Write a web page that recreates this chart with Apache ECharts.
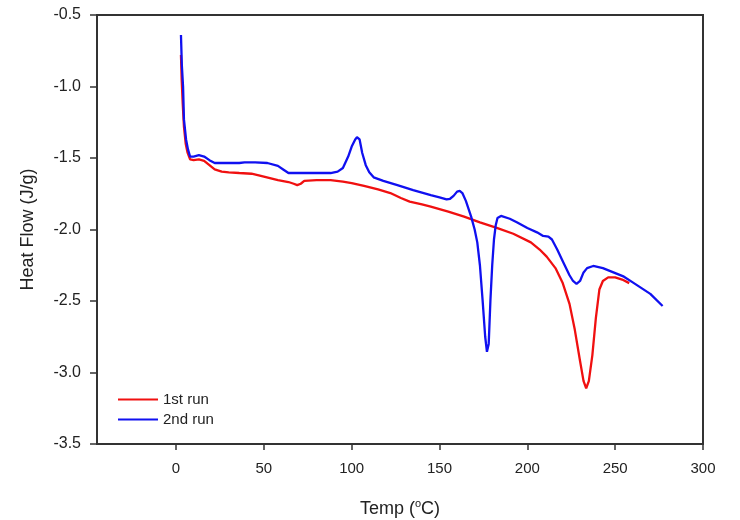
<!DOCTYPE html>
<html><head><meta charset="utf-8">
<script src="https://cdn.jsdelivr.net/npm/echarts@6/dist/echarts.min.js"></script>
<style>html,body{margin:0;padding:0;background:#fff}#c{width:740px;height:520px}</style>
</head><body><div id="c"></div>
<script>
const xTicks = [0, 50, 100, 150, 200, 250, 300];
const temp1 = [2.8,3.2,3.8,4.5,5.5,6.5,8,10,13,16,19,22,26,30,36,43,50,58,64,67,69,71,73,80,88,95,100,107,115,122,128,133,140,145,155,164,173,183,192,202,207,211,216,220,224,227,230,232,233.5,235,237,239,241,243,246,250,254,258];
const flow1 = [-0.78,-0.95,-1.12,-1.28,-1.40,-1.46,-1.51,-1.515,-1.51,-1.52,-1.55,-1.58,-1.595,-1.60,-1.605,-1.61,-1.63,-1.655,-1.668,-1.68,-1.69,-1.68,-1.66,-1.655,-1.655,-1.665,-1.675,-1.695,-1.72,-1.745,-1.78,-1.805,-1.825,-1.84,-1.875,-1.91,-1.95,-1.99,-2.03,-2.09,-2.14,-2.19,-2.27,-2.37,-2.52,-2.7,-2.92,-3.06,-3.11,-3.06,-2.88,-2.62,-2.42,-2.36,-2.335,-2.335,-2.35,-2.375];
const temp2 = [2.8,3.3,4,4.5,5.7,6.8,8,10,13,16,19,22,28,36,39,45,52,58,61,64,70,80,88,92,95,98,100,102,103,104.5,106,108,110,112.5,118,126,135,145,150,154,156,158,160,161.5,163,165,168,170,171.5,173,174.5,176,177,178,179,180,181,182,183,185,190,194,200,205.5,209,212,214,217,220.5,224,226,228,230,232,234,237.5,243,249,255,260,265,270,277];
const flow2 = [-0.64,-0.85,-1.0,-1.23,-1.37,-1.44,-1.49,-1.49,-1.48,-1.49,-1.515,-1.535,-1.535,-1.535,-1.53,-1.53,-1.535,-1.555,-1.58,-1.605,-1.605,-1.605,-1.605,-1.595,-1.57,-1.49,-1.42,-1.37,-1.355,-1.37,-1.465,-1.55,-1.6,-1.635,-1.66,-1.69,-1.725,-1.76,-1.775,-1.79,-1.785,-1.765,-1.735,-1.73,-1.745,-1.8,-1.91,-2.0,-2.09,-2.25,-2.49,-2.75,-2.855,-2.8,-2.49,-2.25,-2.07,-1.97,-1.92,-1.905,-1.925,-1.95,-1.99,-2.02,-2.045,-2.05,-2.07,-2.14,-2.23,-2.32,-2.36,-2.38,-2.36,-2.3,-2.27,-2.255,-2.27,-2.30,-2.33,-2.37,-2.41,-2.45,-2.535];
const seriesNames = ['1st run', '2nd run'];

const zip = (a, b) => a.map((v, i) => [v, b[i]]);
const font = 'Liberation Sans, Arial, sans-serif';
const chart = echarts.init(document.getElementById('c'), null, {renderer: 'canvas'});
chart.setOption({
  animation: false,
  backgroundColor: '#fff',
  grid: {left: 97, right: 37, top: 15, bottom: 76, containLabel: false, outerBoundsMode: 'none',
         show: true, borderColor: '#333', borderWidth: 2, backgroundColor: 'transparent'},
  legend: {
    left: 113, top: 387, orient: 'vertical', itemWidth: 40, itemHeight: 2, itemGap: 5,
    icon: 'rect',
    textStyle: {fontFamily: font, fontSize: 15, color: '#222'},
    data: seriesNames
  },
  xAxis: {
    type: 'value', min: -45, max: 300,
    name: 'Temp ({sup|o}C)', nameLocation: 'middle', nameGap: 54,
    nameTextStyle: {fontFamily: font, fontSize: 18, color: '#222',
      rich: {sup: {fontFamily: font, fontSize: 11, color: '#222', verticalAlign: 'bottom', padding: [0, 0, 11, 0]}}},
    axisLine: {show: true, onZero: false, lineStyle: {color: '#333', width: 2}},
    axisTick: {show: true, length: 6, customValues: xTicks, lineStyle: {color: '#333', width: 1.5}},
    axisLabel: {customValues: xTicks, margin: 17, fontFamily: font, fontSize: 15, color: '#222'},
    splitLine: {show: false}
  },
  yAxis: {
    type: 'value', min: -3.5, max: -0.5, interval: 0.5,
    name: 'Heat Flow (J/g)', nameLocation: 'middle', nameGap: 60,
    nameTextStyle: {fontFamily: font, fontSize: 18, color: '#222'},
    axisLine: {show: true, onZero: false, lineStyle: {color: '#333', width: 2}},
    axisTick: {show: true, length: 7, lineStyle: {color: '#333', width: 1.5}},
    axisLabel: {margin: 16, fontFamily: font, fontSize: 16, color: '#222', formatter: v => v.toFixed(1)},
    splitLine: {show: false}
  },
  series: [
    {name: seriesNames[0], type: 'line', data: zip(temp1, flow1), showSymbol: false, symbol: 'none',
     lineStyle: {color: '#f01010', width: 2.3}, itemStyle: {color: '#f01010'}},
    {name: seriesNames[1], type: 'line', data: zip(temp2, flow2), showSymbol: false, symbol: 'none',
     lineStyle: {color: '#1010f0', width: 2.3}, itemStyle: {color: '#1010f0'}}
  ]
});
</script></body></html>
